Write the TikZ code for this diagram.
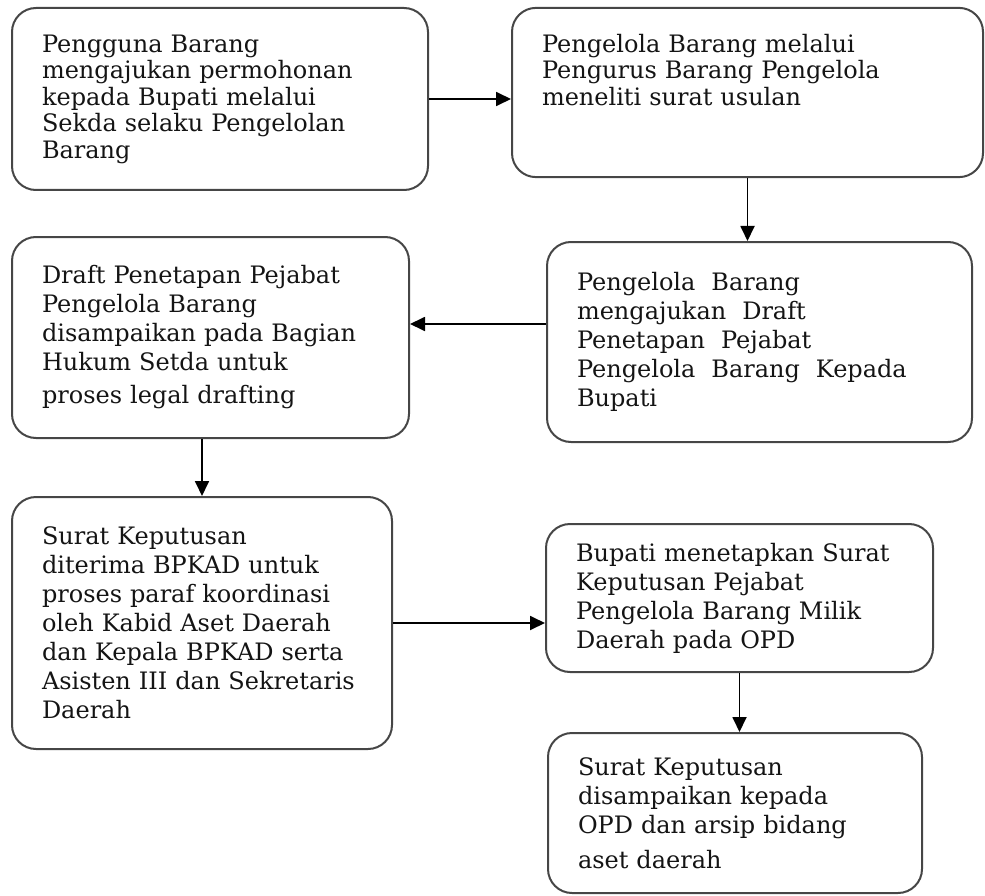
\documentclass[tikz,border=0pt]{standalone}
\usepackage{fontspec}
\setmainfont{DejaVu Serif}
\usepackage{xcolor}
\usepackage{tikz}
\usetikzlibrary{arrows.meta}
\definecolor{boxline}{RGB}{70,70,70}
\definecolor{inktext}{RGB}{20,20,20}

\begin{document}
\begin{tikzpicture}[
  x=1pt,y=-1pt,
  font=\fontsize{24}{29}\selectfont,
  stepbox/.style={rectangle,rounded corners=24pt,draw=boxline,line width=2pt,text=inktext,align=left,inner xsep=30pt,inner ysep=10pt},
  tight/.style={font=\fontsize{24}{26.5}\selectfont},
  arrow/.style={-{Triangle[length=15pt,width=14pt]},draw=black,line width=1.8pt}
]
\useasboundingbox (0,0) rectangle (985,896);
\node[stepbox,tight,minimum width=416pt,minimum height=182pt,text width=356pt] (usul) at (220,99) {Pengguna Barang\\mengajukan permohonan\\kepada Bupati melalui\\Sekda selaku Pengelolan\\Barang};
\node[stepbox,tight,minimum width=471pt,text width=411pt,inner ysep=26pt,text depth=99pt] (teliti) at (747.5,92.5) {Pengelola Barang melalui\\Pengurus Barang Pengelola\\meneliti surat usulan};
\node[stepbox,minimum width=425pt,minimum height=200pt,text width=365pt] (draft) at (759.5,342) {Pengelola\ \ Barang\\mengajukan\ \ Draft\\Penetapan\ \ Pejabat\\Pengelola\ \ Barang\ \ Kepada\\Bupati};
\node[stepbox,minimum width=397pt,minimum height=201pt,text width=337pt] (hukum) at (210.5,337.5) {Draft Penetapan Pejabat\\Pengelola Barang\\disampaikan pada Bagian\\Hukum Setda untuk\\[4pt]proses legal drafting};
\node[stepbox,minimum width=380pt,minimum height=252pt,text width=320pt] (paraf) at (202,623) {Surat Keputusan\\diterima BPKAD untuk\\proses paraf koordinasi\\oleh Kabid Aset Daerah\\dan Kepala BPKAD serta\\Asisten III dan Sekretaris\\Daerah};
\node[stepbox,minimum width=387pt,minimum height=148pt,text width=327pt] (tetap) at (739.5,598) {Bupati menetapkan Surat\\Keputusan Pejabat\\Pengelola Barang Milik\\Daerah pada OPD};
\node[stepbox,minimum width=374pt,minimum height=160pt,text width=314pt] (arsip) at (735,813) {Surat Keputusan\\disampaikan kepada\\OPD dan arsip bidang\\[6pt]aset daerah};
\draw[arrow] (usul.east) -- (usul.east -| teliti.west);
\draw[arrow] (teliti.south) -- (teliti.south |- draft.north);
\draw[arrow] ([yshift=18pt]draft.west) -- ([yshift=18pt]draft.west -| hukum.east);
\draw[arrow] (paraf.north |- hukum.south) -- (paraf.north);
\draw[arrow] (paraf.east) -- (paraf.east -| tetap.west);
\draw[arrow] (tetap.south) -- (tetap.south |- arsip.north);
\end{tikzpicture}
\end{document}
